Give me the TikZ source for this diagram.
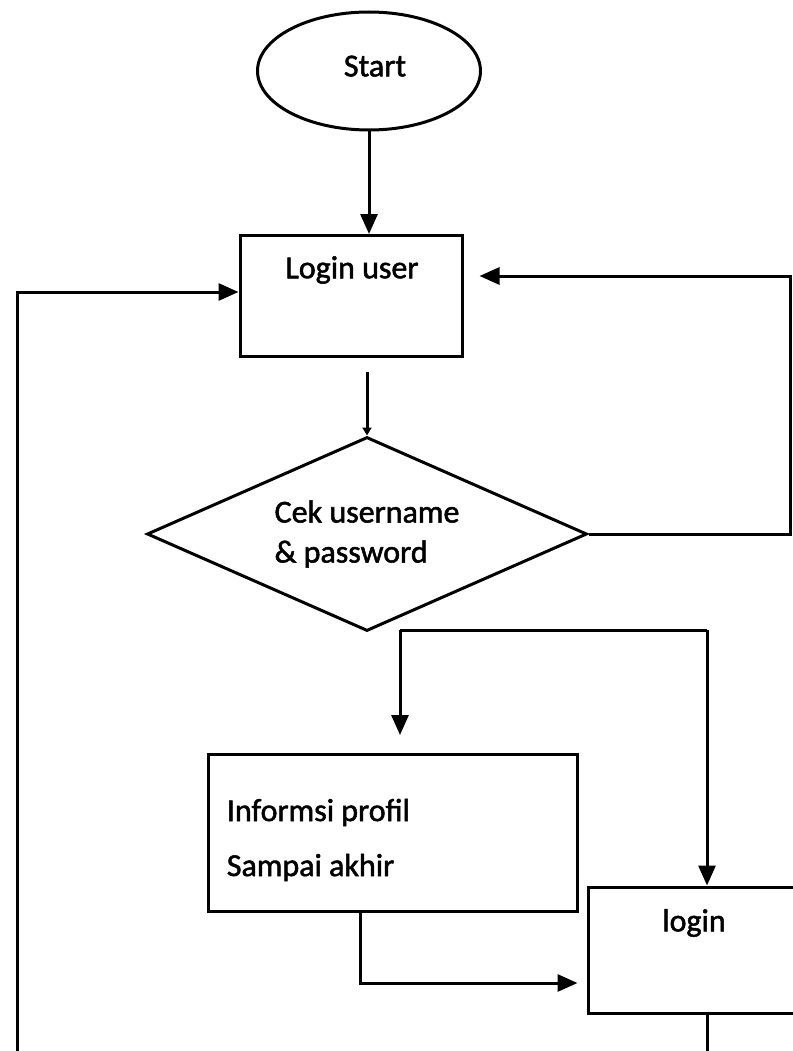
\documentclass[tikz,border=0pt]{standalone}
\usepackage{fontspec}
\setmainfont{Carlito}[UprightFeatures={FakeBold=1.6}]
\usetikzlibrary{shapes.geometric,arrows.meta,calc}
\begin{document}
\begin{tikzpicture}[x=1pt,y=-1pt,
  line width=3pt,
  txt/.style={font=\fontsize{32}{40}\selectfont},
  box/.style={draw, rectangle, inner sep=0pt},
  arr/.style={-{Triangle[length=20pt,width=17pt]}},
  sarr/.style={-{Triangle[length=8pt,width=9pt]}},
]
\useasboundingbox (0,0) rectangle (792,1051);
% nodes
\node[draw, ellipse, minimum width=223pt, minimum height=118pt, inner sep=0pt, txt] (start) at (369,71) {\raisebox{10pt}{\hspace{12pt}Start}};
\node[box, minimum width=222pt, minimum height=121pt] (loginuser) at (351,296) {};
\node[txt] (tLU) at (352,270) {Login user};
\node[draw, diamond, aspect=2.27, minimum width=440pt, minimum height=194pt, inner sep=0pt, align=left, txt] (dia) at (367,534) {Cek username\\\& password};
\node[box, minimum width=369pt, minimum height=157pt] (info) at (393,833) {};
\node[txt, anchor=west, align=left] (tinfo) at (222,840) {Informsi profil\\[15pt]Sampai akhir};
\node[box, minimum width=212pt, minimum height=126pt] (login) at (694,950) {};
\node[txt] (tlogin) at (694,923) {login};
% coordinates
\coordinate (split) at (400,630);
\coordinate (splitR) at (707,630);
\coordinate (leftEnd) at (17,1060);
\coordinate (loginEnd) at (707,1060);
\coordinate (rightTop) at (790,276);
% connectors
\draw[arr] (start.south) -- (start.south |- loginuser.north);
\draw[sarr, shorten <=14pt] (loginuser.south -| dia.north) -- (dia.north);
\draw[arr, shorten >=16pt] (dia.east) -| (rightTop) -- (loginuser.east |- rightTop);
\draw[arr] (leftEnd) |- ($(loginuser.west)+(0,-4)$);
\draw (split) -- (splitR);
\draw[arr, shorten >=18pt] (split) -- (split |- info.north);
\draw[arr] (splitR) -- (splitR |- login.north);
\draw[arr, shorten >=9pt] ($(info.south)+(-33,0)$) |- ($(login.west)+(0,33)$);
\draw (login.south -| splitR) -- (loginEnd);
\end{tikzpicture}
\end{document}
